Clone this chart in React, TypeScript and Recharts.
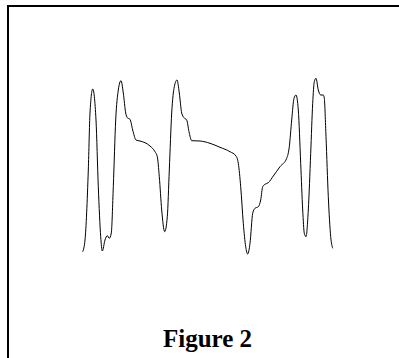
import { LineChart, Line, XAxis, YAxis } from 'recharts';

// Trace: time offset and signal amplitude
const times = [
  0.7, 3, 6.3, 8, 10.7, 14, 16.3, 18.7, 20.3, 23, 25.3, 27.3, 29.3, 31.3, 33.7, 36.3, 39, 41.3, 43.7,
  45.3, 48, 50.7, 54, 58, 63, 68, 73, 75.3, 77.3, 79.7, 82.7, 85.3, 87.3, 89.7, 92.3, 95, 97.3, 99.7,
  102, 104.7, 107, 109.7, 118, 128, 138, 148, 154, 156.3, 158.7, 161.3, 163.7, 165.7, 168, 170.7, 173,
  176.3, 178.7, 180.7, 183, 186.3, 191.3, 198, 204.7, 207.3, 209.7, 212, 214, 216.3, 218.7, 220.7,
  222.3, 224, 226.3, 228.7, 230.7, 232.3, 234, 236.3, 238.7, 241.3, 242.3, 244, 246.3, 248.7, 250.7,
];
const amplitude = [
  4.3, 16, 86, 143, 167, 136, 69.3, 19.3, 5, 16, 20.3, 17.7, 23, 69.3, 136, 166, 175.3, 163, 143,
  138.3, 136.7, 126, 116, 115, 113.3, 110, 104.3, 99.3, 79.3, 46, 24.3, 39.3, 86, 143, 169.3, 176, 163, 143,
  138.3, 136, 124.3, 115.3, 115, 112.7, 108.7, 104.3, 100, 92.7, 69.3, 32.7, 9.3, 2, 12.7, 42.7, 47.7,
  49.3, 56, 69.3, 71.7, 73.3, 80, 89.3, 97.7, 109.3, 136, 157.7, 161, 146, 92.7, 46,
  22.7, 19.3, 46, 102.7, 152.7, 174.3, 177.7, 166, 161, 161, 157.7, 119.3, 59.3, 19.3, 7.7,
];
const caption = 'Figure 2';

const data = times.map((t, i) => ({ t, v: amplitude[i] }));

const App = () => {
  return (
    <div style={{ position: 'absolute', left: 0, top: 0, width: 399, height: 358, overflow: 'hidden', background: '#fff' }}>
      <div
        style={{
          position: 'absolute',
          left: 7,
          top: 5,
          width: 420,
          height: 400,
          borderLeft: '2px solid #000',
          borderTop: '2px solid #000',
        }}
      />
      <div style={{ position: 'absolute', left: 72, top: 68 }}>
        <LineChart width={271} height={198} data={data} margin={{ top: 10, right: 10, bottom: 10, left: 10 }}>
          <XAxis dataKey="t" type="number" domain={[0, 251]} hide />
          <YAxis type="number" domain={[0, 178]} hide />
          <Line
            type="monotone"
            dataKey="v"
            stroke="#000"
            strokeWidth={1}
            dot={false}
            isAnimationActive={false}
          />
        </LineChart>
      </div>
      <div
        style={{
          position: 'absolute',
          left: 107.5,
          top: 326,
          width: 200,
          textAlign: 'center',
          fontFamily: '"Liberation Serif", "Times New Roman", serif',
          fontWeight: 'bold',
          fontSize: 25,
          lineHeight: '25px',
        }}
      >
        {caption}
      </div>
    </div>
  );
};

export default App;
